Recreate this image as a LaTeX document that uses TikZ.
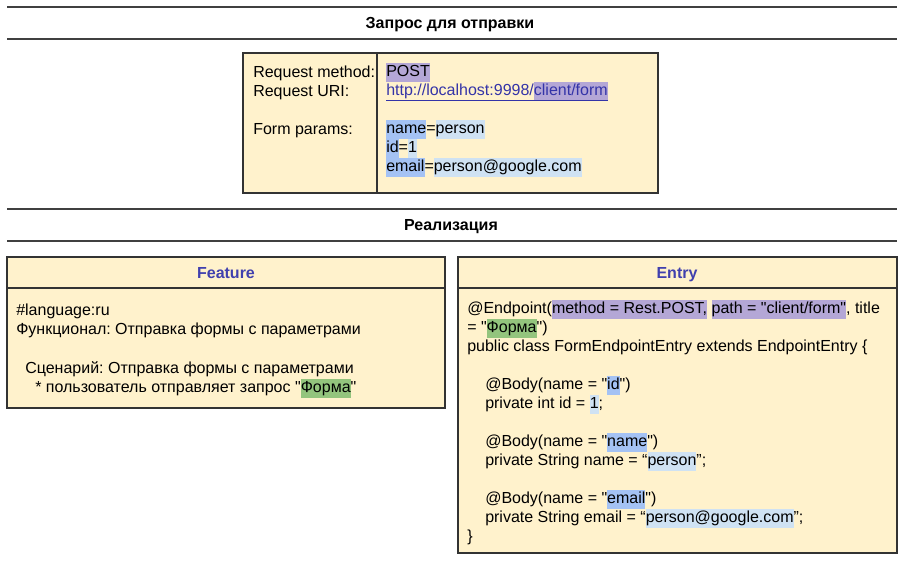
\documentclass[tikz,border=0pt]{standalone}
\usepackage{fontspec}
\newfontfamily\arial{Liberation Sans}
\definecolor{boxfill}{HTML}{FFF2CC}
\definecolor{hlpurple}{HTML}{B4A7D6}
\definecolor{hlgreen}{HTML}{93C47D}
\definecolor{hlblue}{HTML}{A4C2F4}
\definecolor{hllight}{HTML}{CFE2F3}
\definecolor{headblue}{HTML}{4040AE}
\definecolor{linkblue}{HTML}{3434A8}
\newcommand\hl[2]{{\setlength{\fboxsep}{0pt}\colorbox{#1}{\strut #2}}}
\newcommand\ul[1]{\underline{\vphantom{p/}#1}}

\tikzset{
  txt/.style={anchor=base west, inner sep=0pt, font=\arial\fontsize{12}{14.25}\selectfont\frenchspacing},
  head/.style={anchor=base, inner sep=0pt, font=\arial\fontsize{12}{14.25}\selectfont\bfseries},
  panel/.style={draw=black!80, fill=boxfill, line width=0.8pt},
  sep/.style={draw=black!75, line width=1.1pt},
}

\begin{document}
\begin{tikzpicture}[x=0.75pt, y=-0.75pt]
\useasboundingbox (0,0) rectangle (904,561);

% request section
\draw[sep] (7,7) -- (897,7);
\draw[sep] (7,39) -- (897,39);
\node[head] (req-title) at (450,28) {Запрос для отправки};

\draw[panel] (243,53) rectangle (658,193);
\draw[black!80, line width=0.8pt] (377,53) -- (377,193);

\node[txt] (req-method) at (253,77) {Request method:};
\node[txt] (req-uri) at (253,96) {Request URI:};
\node[txt] (req-params) at (253,134) {Form params:};

\node[txt] (val-method) at (386,76) {\hl{hlpurple}{POST}};
\node[txt] (val-uri) at (386,95) {\color{linkblue}\ul{http://localhost:9998/}\hl{hlpurple}{\ul{client/form}}};
\node[txt] (val-name) at (386,133) {\hl{hlblue}{name}=\hl{hllight}{person}};
\node[txt] (val-id) at (386,152) {\hl{hlblue}{id}=\hl{hllight}{1}};
\node[txt] (val-email) at (386,171) {\hl{hlblue}{email}=\hl{hllight}{person@google.com}};

% implementation section
\draw[sep] (7,209) -- (897,209);
\draw[sep] (7,241) -- (897,241);
\node[head] (impl-title) at (451,230) {Реализация};

% feature
\draw[panel] (7,257) rectangle (445,408);
\draw[black!80, line width=0.8pt] (7,288) -- (445,288);
\node[head, headblue] (feat-title) at (226,278) {Feature};

\node[txt] (feat-lang) at (16,315) {\#language:ru};
\node[txt] (feat-func) at (16,334) {Функционал: Отправка формы с параметрами};
\node[txt] (feat-scen) at (25,373) {Сценарий: Отправка формы с параметрами};
\node[txt] (feat-step) at (35,392) {* пользователь отправляет запрос "\hl{hlgreen}{Форма}"};

% entry
\draw[panel] (458,257) rectangle (897,553);
\draw[black!80, line width=0.8pt] (458,288) -- (897,288);
\node[head, headblue] (entry-title) at (677,278) {Entry};

\node[txt] (entry-l1) at (467,313) {@Endpoint(\hl{hlpurple}{method = Rest.POST,} \hl{hlpurple}{path = "client/form"}, title};
\node[txt] (entry-l2) at (467,332) {= "\hl{hlgreen}{Форма}")};
\node[txt] (entry-l3) at (467,351) {public class FormEndpointEntry extends EndpointEntry \{};
\node[txt] (entry-id1) at (485,389) {@Body(name = "\hl{hlblue}{id}")};
\node[txt] (entry-id2) at (485,408) {private int id = \hl{hllight}{1};};
\node[txt] (entry-name1) at (485,446) {@Body(name = "\hl{hlblue}{name}")};
\node[txt] (entry-name2) at (485,465) {private String name = “\hl{hllight}{person}”;};
\node[txt] (entry-mail1) at (485,503) {@Body(name = "\hl{hlblue}{email}")};
\node[txt] (entry-mail2) at (485,522) {private String email = “\hl{hllight}{person@google.com}”;};
\node[txt] (entry-end) at (467,541) {\}};

\end{tikzpicture}
\end{document}
